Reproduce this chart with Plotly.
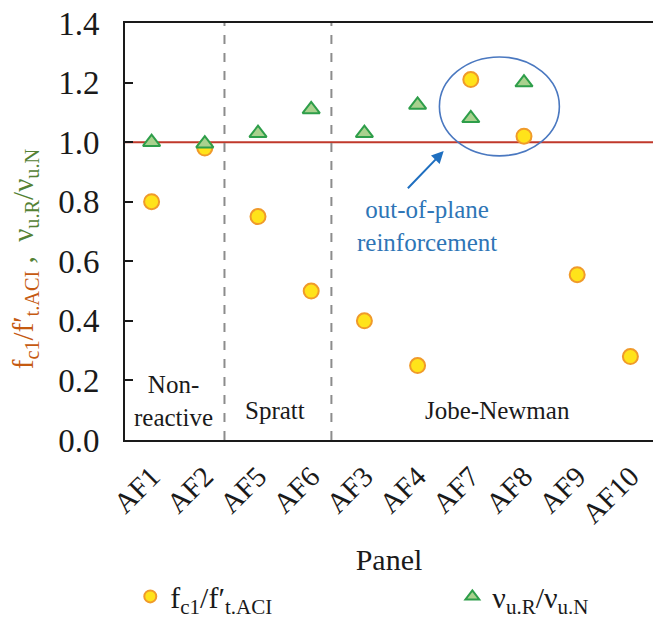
import plotly.graph_objects as go

panels = ["AF1", "AF2", "AF5", "AF6", "AF3", "AF4", "AF7", "AF8", "AF9", "AF10"]
fc1_ratio = [0.80, 0.98, 0.75, 0.50, 0.40, 0.25, 1.21, 1.02, 0.555, 0.28]
vu_ratio = [1.00, 0.995, 1.03, 1.11, 1.03, 1.125, 1.08, 1.20, None, None]
y_ticks = [0.0, 0.2, 0.4, 0.6, 0.8, 1.0, 1.2, 1.4]
group_labels = ["Non-<br>reactive", "Spratt", "Jobe-Newman"]

SERIF = "Liberation Serif, Times New Roman, serif"
xi = list(range(len(panels)))

fig = go.Figure()
fig.add_trace(go.Scatter(
    x=xi, y=fc1_ratio, mode="markers", name="f<sub>c1</sub>/f′<sub>t.ACI</sub>",
    legend="legend",
    marker=dict(symbol="circle", size=15, color="#FFE31A",
                line=dict(color="#F09A2A", width=2)),
))
fig.add_trace(go.Scatter(
    x=xi, y=vu_ratio, mode="markers", name="ν<sub>u.R</sub>/ν<sub>u.N</sub>",
    legend="legend2",
    marker=dict(symbol="triangle-up", size=15, color="#A9D18E",
                line=dict(color="#2E9E4A", width=2)),
))

# reference line at 1.0
fig.add_shape(type="line", xref="paper", x0=0, x1=1, yref="y", y0=1.0, y1=1.0,
              line=dict(color="#C0392B", width=2), layer="below")
# group separators
for xs in [1.37, 3.38]:
    fig.add_shape(type="line", xref="x", x0=xs, x1=xs, yref="paper", y0=0, y1=1,
                  line=dict(color="#8C8C8C", width=2, dash="dash"), layer="below")
# ellipse
fig.add_shape(type="circle", xref="x", yref="y", x0=5.41, x1=7.665, y0=0.954, y1=1.286,
              line=dict(color="#4A78C0", width=1.6))

# arrow + note
fig.add_annotation(x=5.49, y=0.97, ax=4.79, ay=0.84, axref="x", ayref="y",
                   xref="x", yref="y", showarrow=True, arrowhead=2, arrowsize=1.2,
                   arrowwidth=2, arrowcolor="#1F6FC0", text="")
fig.add_annotation(x=5.18, y=0.72, xref="x", yref="y", showarrow=False,
                   text="out-of-plane<br>reinforcement",
                   font=dict(family=SERIF, size=25, color="#2E75B6"))

# group labels
grp_x = [0.41, 2.32, 6.5]
grp_y = [0.13, 0.10, 0.10]
for t, gx, gy in zip(group_labels, grp_x, grp_y):
    fig.add_annotation(x=gx, y=gy, xref="x", yref="y", showarrow=False, text=t,
                       font=dict(family=SERIF, size=25, color="#1A1A1A"))

# y-axis title
fig.add_annotation(
    xref="paper", yref="paper", x=-0.19, y=0.435, textangle=-90, showarrow=False,
    xanchor="center", yanchor="middle",
    text=("<span style='color:#C55A11'>f<sub>c1</sub>/f′<sub>t.ACI</sub></span>"
          "<span style='color:#548235'> ,  ν<sub>u.R</sub>/ν<sub>u.N</sub></span>"),
    font=dict(family=SERIF, size=29),
)

legend_common = dict(orientation="h", xanchor="left", yanchor="middle",
                     font=dict(family=SERIF, size=30, color="#1A1A1A"),
                     itemsizing="constant", bgcolor="rgba(0,0,0,0)")

fig.update_layout(
    width=653, height=624,
    margin=dict(l=125, r=0, t=23, b=184, autoexpand=False),
    paper_bgcolor="white", plot_bgcolor="white",
    font=dict(family=SERIF, size=28, color="#1A1A1A"),
    showlegend=True,
    legend=dict(x=0.01, y=-0.375, **legend_common),
    legend2=dict(x=0.62, y=-0.375, **legend_common),
    xaxis=dict(
        range=[-0.5, 9.425], tickmode="array", tickvals=xi, ticktext=panels,
        tickangle=-45, showgrid=False, zeroline=False, automargin=False,
        showline=True, linecolor="#1A1A1A", linewidth=2, mirror=True, ticks="",
        ticklabelstandoff=6, ticklabeloverflow="allow",
        title=dict(text="Panel", standoff=20, font=dict(family=SERIF, size=30)),
        tickfont=dict(family=SERIF, size=29),
    ),
    yaxis=dict(
        range=[0, 1.4], tickmode="array", tickvals=y_ticks, automargin=False,
        ticktext=[f"{v:.1f}" for v in y_ticks], ticklabeloverflow="allow",
        showgrid=False, zeroline=False, showline=True, linecolor="#1A1A1A", linewidth=2,
        ticks="inside", ticklen=8, tickwidth=1.5, tickcolor="#1A1A1A",
        ticklabelstandoff=17, tickfont=dict(family=SERIF, size=33),
    ),
)

fig.write_html("out.html", config={"displayModeBar": False},
               post_script="document.body.style.margin='0px';document.body.style.overflow='hidden';")
